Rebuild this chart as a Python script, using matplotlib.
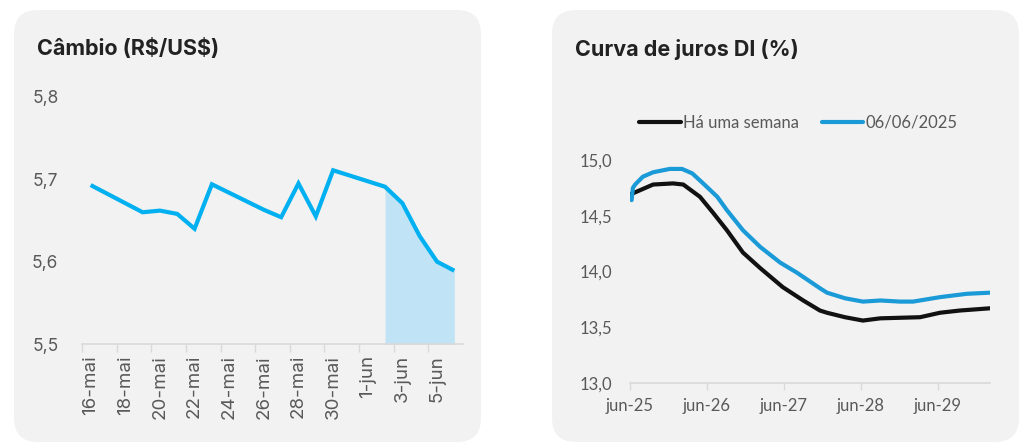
import numpy as np
import pandas as pd
import matplotlib
matplotlib.use("Agg")
import matplotlib.pyplot as plt
from matplotlib.patches import FancyBboxPatch

# --- dados: câmbio R$/US$ ---
cambio_datas = ["2025-05-16", "2025-05-19", "2025-05-20", "2025-05-21", "2025-05-22",
                "2025-05-23", "2025-05-26", "2025-05-27", "2025-05-28", "2025-05-29",
                "2025-05-30", "2025-06-02", "2025-06-03", "2025-06-04", "2025-06-05",
                "2025-06-06"]
cambio_valores = [5.693, 5.660, 5.662, 5.658, 5.640, 5.694, 5.663, 5.654, 5.695,
                  5.655, 5.711, 5.691, 5.671, 5.631, 5.600, 5.589]
cambio_destaque_inicio = "2025-06-02"
cambio_yticks = [5.5, 5.6, 5.7, 5.8]
meses_pt = {5: "mai", 6: "jun"}

# --- dados: curva DI (meses a partir de jun-25) ---
di_semana_meses = [0.0, 1.6, 3.6, 6.7, 8.3, 10.9, 12.9, 15.1, 17.6, 20.3, 23.8,
                   27.0, 29.6, 30.7, 33.5, 36.3, 39.0, 45.2, 48.3, 51.4, 56.1]
di_semana_taxa = [14.69, 14.73, 14.78, 14.79, 14.78, 14.67, 14.53, 14.37, 14.17,
                  14.03, 13.86, 13.74, 13.65, 13.63, 13.59, 13.56, 13.58, 13.59,
                  13.63, 13.65, 13.67]
di_atual_meses = [0.25, 0.45, 0.8, 2.0, 3.6, 6.2, 8.1, 9.7, 11.4, 13.6, 15.1, 17.6,
                  20.3, 23.4, 26.0, 29.6, 30.7, 33.5, 36.3, 39.0, 42.1, 44.1, 48.3,
                  52.5, 56.1]
di_atual_taxa = [14.64, 14.75, 14.78, 14.85, 14.89, 14.92, 14.92, 14.88, 14.79,
                 14.67, 14.55, 14.37, 14.22, 14.08, 13.99, 13.85, 13.81, 13.76,
                 13.73, 13.74, 13.73, 13.73, 13.77, 13.80, 13.81]
di_yticks = [13.0, 13.5, 14.0, 14.5, 15.0]
di_xticks = [0, 12, 24, 36, 48]
di_xlabels = ["jun-25", "jun-26", "jun-27", "jun-28", "jun-29"]
di_legenda = ["Há uma semana", "06/06/2025"]

W, H = 1024, 445
FUNDO = "#f2f2f2"
CINZA = "#595959"
EIXO = "#d9d9d9"
AZUL_CAMBIO = "#00b0f0"
AZUL_DI = "#1b9ad8"

fig = plt.figure(figsize=(W / 100, H / 100), dpi=100)
fig.patch.set_facecolor("white")


def painel(x0, x1, y0=10, y1=442, r=24):
    """Fundo cinza arredondado, coordenadas em pixels (origem no topo)."""
    p = FancyBboxPatch((x0 / W, 1 - y1 / H), (x1 - x0) / W, (y1 - y0) / H,
                       boxstyle=f"round,pad=0,rounding_size={r / W}",
                       transform=fig.transFigure, facecolor=FUNDO,
                       edgecolor="none", mutation_aspect=W / H, zorder=-5)
    fig.patches.append(p)


def eixos(x0, x1, ytop, ybot):
    return fig.add_axes([x0 / W, 1 - ybot / H, (x1 - x0) / W, (ybot - ytop) / H])


painel(14, 481)
painel(552, 1019)

fonte_titulo = ["Inter", "DejaVu Sans"]

# --- gráfico da esquerda: câmbio ---
datas = pd.to_datetime(cambio_datas)
x = np.array((datas - datas[0]).days)
ax1 = eixos(82, 463, 97, 344)
ax1.set_facecolor("none")
ax1.plot(x, cambio_valores, color=AZUL_CAMBIO, lw=3.0, solid_joinstyle="miter",
         solid_capstyle="butt", zorder=3)
marca = x >= (pd.Timestamp(cambio_destaque_inicio) - datas[0]).days
ax1.fill_between(x[marca], 5.5, np.array(cambio_valores)[marca],
                 color="#c0e4f5", lw=0, zorder=2)
ax1.set_xlim(-0.5, x[-1] + 0.5)
ax1.set_ylim(5.5, 5.8)
rotulos = pd.date_range(datas[0], datas[-1] - pd.Timedelta(days=1), freq="2D")
ax1.set_xticks((rotulos - datas[0]).days)
ax1.set_xticklabels([f"{d.day}-{meses_pt[d.month]}" for d in rotulos],
                    rotation=90, fontfamily="Inter", fontsize=13.5, color=CINZA)
ax1.set_xticks(np.array((rotulos - datas[0]).days) - 0.5, minor=True)
ax1.tick_params(axis="x", which="major", length=0, pad=8)
ax1.tick_params(axis="x", which="minor", length=6, color=EIXO, width=1)
ax1.set_yticks(cambio_yticks)
ax1.set_yticklabels([f"{v:.1f}".replace(".", ",") for v in cambio_yticks],
                    fontfamily="Inter", fontsize=12.5, color=CINZA)
ax1.tick_params(axis="y", length=0, pad=17)
for s in ["top", "right", "left"]:
    ax1.spines[s].set_visible(False)
ax1.spines["bottom"].set_color(EIXO)
ax1.spines["bottom"].set_linewidth(1.2)
fig.text(37 / W, 1 - 48 / H, r"Câmbio (R\$/US\$)", fontfamily=fonte_titulo,
         fontweight="bold", fontsize=15.5, color="#222222", va="center")

# --- gráfico da direita: curva DI ---
ax2 = eixos(630, 990, 160, 383)
ax2.set_facecolor("none")
l1, = ax2.plot(di_semana_meses, di_semana_taxa, color="#111111", lw=3.0,
               solid_capstyle="round")
l2, = ax2.plot(di_atual_meses, di_atual_taxa, color=AZUL_DI, lw=3.0,
               solid_capstyle="round")
ax2.set_xlim(0, 56.1)
ax2.set_ylim(13.0, 15.0)
ax2.set_xticks(di_xticks)
ax2.set_xticklabels(di_xlabels, fontfamily="Lato", fontsize=12, color=CINZA)
ax2.tick_params(axis="x", length=5, color=EIXO, width=1, pad=6)
ax2.set_yticks(di_yticks)
ax2.set_yticklabels([f"{v:.1f}".replace(".", ",") for v in di_yticks],
                    fontfamily="Lato", fontsize=12, color=CINZA)
ax2.tick_params(axis="y", length=0, pad=13)
for s in ["top", "right", "left"]:
    ax2.spines[s].set_visible(False)
ax2.spines["bottom"].set_color(EIXO)
ax2.spines["bottom"].set_linewidth(1.2)
leg = fig.legend([l1, l2], di_legenda, loc="center left",
                 bbox_to_anchor=(624 / W, 1 - 123 / H), ncol=2, frameon=False,
                 handlelength=2.5, handletextpad=0.15, columnspacing=1.35,
                 prop={"family": "Lato", "size": 12})
for t in leg.get_texts():
    t.set_color(CINZA)
fig.text(575 / W, 1 - 49 / H, "Curva de juros DI (%)", fontfamily=fonte_titulo,
         fontweight="bold", fontsize=15.5, color="#222222", va="center")

fig.savefig("out.png", dpi=100, facecolor="white")
